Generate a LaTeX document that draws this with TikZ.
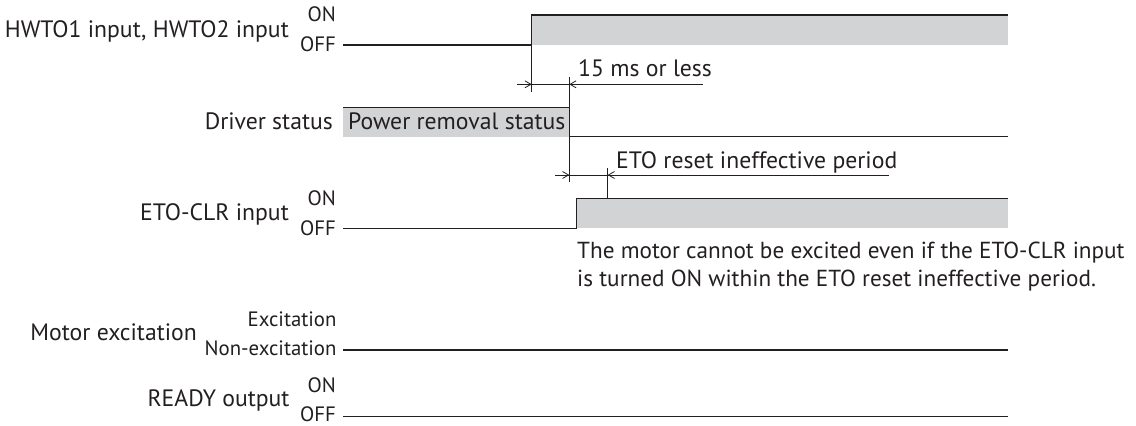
\documentclass[tikz,border=0pt]{standalone}
\usepackage{fontspec}
\setmainfont{PT Sans}
\usetikzlibrary{arrows.meta}
\definecolor{sgray}{HTML}{D1D3D4}
\definecolor{sink}{HTML}{231F20}

\begin{document}
\begin{tikzpicture}[x=1pt,y=-1pt,color=sink]
  \useasboundingbox (0,0) rectangle (1136,426);
  \tikzset{siglabel/.style={anchor=base east,inner sep=0pt,font=\fontsize{23.7}{28}\selectfont},
           levlabel/.style={anchor=base east,inner sep=0pt,font=\fontsize{20.8}{24}\selectfont},
           dimtext/.style={anchor=base west,inner sep=0pt,font=\fontsize{23.7}{28}\selectfont},
           notetext/.style={dimtext,font=\fontsize{23.2}{28}\selectfont},
           sigline/.style={line width=1.3pt},
           dimline/.style={line width=0.8pt},
           dimtip/.style={dimline,-{Straight Barb[length=6pt,width=7pt]}}}

 % HWTO1 / HWTO2 input
  \node[siglabel] (hwto) at (289,37.3) {HWTO1 input, HWTO2 input};
  \node[levlabel] (hwtoon) at (336,21.7) {ON};
  \node[levlabel] (hwtooff) at (336,51.7) {OFF};
  \coordinate (hwtoa) at (343,45);
  \coordinate (hwtob) at (531.7,45);
  \coordinate (hwtoc) at (531.7,15);
  \coordinate (hwtod) at (1008,15);
  \fill[sgray] (hwtoc) rectangle (1008,45);
  \draw[sigline] (hwtoa) -- (hwtob) -- (hwtoc) -- (hwtod);

 % 15 ms or less
  \coordinate (tla) at (531.7,91.7);
  \coordinate (tlb) at (569.3,77);
  \coordinate (tll) at (517,84.3);
  \coordinate (tlr) at (703,84.3);
  \draw[dimline] (hwtob) -- (tla);
  \draw[dimline] (tll) -- (tlr);
  \draw[dimtip] (tll) -- (531.7,84.3);
  \draw[dimtip] (tlr) -- (569.3,84.3);
  \node[dimtext] (tltext) at (578,76) {15 ms or less};

 % Driver status
  \node[siglabel] (drv) at (333,129) {Driver status};
  \coordinate (drva) at (343,107.3);
  \coordinate (drvb) at (569.3,107.3);
  \coordinate (drvc) at (569.3,136.7);
  \coordinate (drvd) at (1008,136.7);
  \fill[sgray] (drva) rectangle (drvc);
  \draw[sigline] (drva) -- (drvb) -- (drvc) -- (drvd);
  \draw[dimline] (tlb) -- (drvb);
  \node[dimtext] (drvbox) at (348,129) {Power removal status};

 % ETO reset ineffective period
  \coordinate (rpa) at (569.3,181.7);
  \coordinate (rpb) at (607.7,168);
  \coordinate (rpc) at (607.7,198.3);
  \coordinate (rpl) at (555,175);
  \coordinate (rpr) at (889,175);
  \draw[dimline] (drvc) -- (rpa);
  \draw[dimline] (rpb) -- (rpc);
  \draw[dimline] (rpl) -- (rpr);
  \draw[dimtip] (rpl) -- (569.3,175);
  \draw[dimtip] (rpr) -- (607.7,175);
  \node[dimtext] (rptext) at (616,168) {ETO reset ineffective period};

 % ETO-CLR input
  \node[siglabel] (eto) at (289,220) {ETO-CLR input};
  \node[levlabel] (etoon) at (336,205) {ON};
  \node[levlabel] (etooff) at (336,235) {OFF};
  \coordinate (etoa) at (343,228.3);
  \coordinate (etob) at (576.7,228.3);
  \coordinate (etoc) at (576.7,198.3);
  \coordinate (etod) at (1008,198.3);
  \fill[sgray] (etob) rectangle (1008,198.3);
  \draw[sigline] (etoa) -- (etob) -- (etoc) -- (etod);
  \node[notetext] (notea) at (577,258.3) {The motor cannot be excited even if the ETO-CLR input};
  \node[notetext] (noteb) at (577,286) {is turned ON within the ETO reset ineffective period.};

 % Motor excitation
  \node[siglabel] (mot) at (197,340.5) {Motor excitation};
  \node[levlabel] (moton) at (336.7,326) {Excitation};
  \node[levlabel] (motoff) at (336.7,355) {Non-excitation};
  \coordinate (mota) at (343,350);
  \coordinate (motb) at (1008,350);
  \draw[sigline] (mota) -- (motb);

 % READY output
  \node[siglabel] (rdy) at (289.7,406) {READY output};
  \node[levlabel] (rdyon) at (336,392.7) {ON};
  \node[levlabel] (rdyoff) at (336,421.7) {OFF};
  \coordinate (rdya) at (343,416.7);
  \coordinate (rdyb) at (1008,416.7);
  \draw[sigline] (rdya) -- (rdyb);
\end{tikzpicture}
\end{document}
